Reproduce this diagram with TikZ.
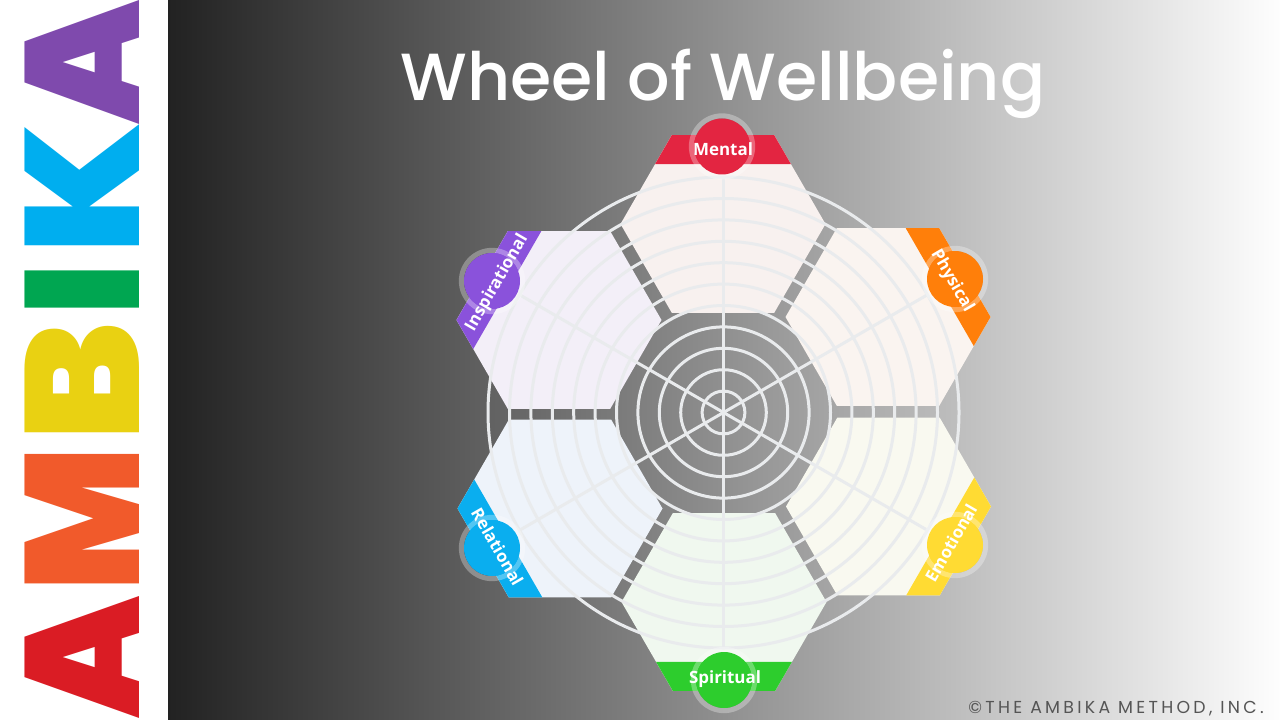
\documentclass[tikz,border=0pt]{standalone}
\usepackage{fontspec}
\usepackage{graphicx}
\setmainfont{Open Sans}
\newfontfamily\titlefont{Poppins}[UprightFont=* Medium]
\newfontfamily\logofont{Poppins}[UprightFont=* Black]
\newfontfamily\notefont{Poppins}[LetterSpace=19]
\usetikzlibrary{calc,shapes.geometric}
\definecolor{mentalred}{HTML}{E32541}
\definecolor{physicalorange}{HTML}{FF7F0A}
\definecolor{emotionalyellow}{HTML}{FFDB33}
\definecolor{spiritualgreen}{HTML}{2DCD2D}
\definecolor{relationalblue}{HTML}{0AAEEF}
\definecolor{inspirationalpurple}{HTML}{8A52DB}
\definecolor{ringgrey}{HTML}{E9EBED}
% coloured strip along the outer side of a cell
\newcommand{\cellband}[3]{\fill[#3] ($(#1)+(#2+30:102.5)$) -- ($(#1)+(#2-30:102.5)$) -- ++(#2-150:33.5) -- ($(#1)+(#2+30:102.5)+(#2+150:33.5)$) -- cycle;}

\begin{document}
\begin{tikzpicture}[x=0.75pt, y=0.75pt,
  cell/.style={regular polygon, regular polygon sides=6, minimum size=153.75pt, inner sep=0pt, outer sep=0pt},
  ring/.style={draw=ringgrey, line width=2.25pt},
  halo/.style={circle, draw=white, draw opacity=0.3, line width=3.75pt, minimum size=46pt, inner sep=0pt},
  dot/.style={circle, minimum size=42pt, inner sep=0pt},
  tag/.style={text=white, inner sep=0pt, font=\bfseries\fontsize{12.7pt}{15pt}\selectfont},
  logo/.style={rotate=90, inner sep=0pt, font=\logofont}]
\useasboundingbox (0,0) rectangle (1280,-720);
\fill[white] (0,0) rectangle (168,-720);
\shade[left color=black!86.7!white, right color=black!0.5!white] (168,0) rectangle (1280,-720);
% logo
\node[logo, text={rgb,255:red,218;green,28;blue,36}] (logoa) at (82,-657) {\resizebox{91.5pt}{85.9pt}{A}};
\node[logo, text={rgb,255:red,241;green,90;blue,43}] (logom) at (82,-519.5) {\resizebox{108.5pt}{85.9pt}{M}};
\node[logo, text={rgb,255:red,233;green,209;blue,18}] (logob) at (82,-382.2) {\resizebox{89.6pt}{85.9pt}{B}};
\node[logo, text={rgb,255:red,0;green,166;blue,81}] (logoi) at (82,-289) {\resizebox{40.5pt}{85.9pt}{I}};
\node[logo, text={rgb,255:red,0;green,174;blue,239}] (logok) at (82,-188.8) {\resizebox{99pt}{85.9pt}{K}};
\node[logo, text={rgb,255:red,127;green,74;blue,173}] (logoz) at (82,-62) {\resizebox{93pt}{85.9pt}{A}};
% title
\node[anchor=base, text=white, inner sep=0pt, font=\titlefont\fontsize{50pt}{60pt}\selectfont] (title) at (723,-101) {Wheel of Wellbeing};
\node[anchor=south east, inner sep=0pt, text={rgb,255:red,85;green,85;blue,85}, font=\notefont\fontsize{13pt}{15pt}\selectfont] (note) at (1264,-716) {©THE AMBIKA METHOD, INC.};
% cells
\node[cell, fill={rgb,255:red,248;green,241;blue,239}] (mental) at (723,-224) {};
\node[cell, fill={rgb,255:red,250;green,244;blue,240}] (physical) at (888,-317) {};
\node[cell, fill={rgb,255:red,249;green,249;blue,240}] (emotional) at (888.5,-506.5) {};
\node[cell, fill={rgb,255:red,240;green,248;blue,239}] (spiritual) at (724,-602) {};
\node[cell, fill={rgb,255:red,238;green,243;blue,250}] (relational) at (560,-508.5) {};
\node[cell, fill={rgb,255:red,243;green,239;blue,248}] (inspirational) at (559,-320) {};
\cellband{mental}{90}{mentalred}
\cellband{physical}{30}{physicalorange}
\cellband{emotional}{-30}{emotionalyellow}
\cellband{spiritual}{-90}{spiritualgreen}
\cellband{relational}{-150}{relationalblue}
\cellband{inspirational}{150}{inspirationalpurple}
% wheel
\coordinate (hub) at (723.5,-412.5);
\draw[ring] (hub) circle[radius=21.4] (hub) circle[radius=42.8] (hub) circle[radius=64.2] (hub) circle[radius=85.6];
\draw[ring] (hub) circle[radius=107] (hub) circle[radius=128.4] (hub) circle[radius=149.8] (hub) circle[radius=171.2];
\draw[ring] (hub) circle[radius=192.6] (hub) circle[radius=214] (hub) circle[radius=235.5];
\draw[ring] ($(hub)+(90:235.5)$) -- ($(hub)+(270:235.5)$);
\draw[ring] ($(hub)+(30:235.5)$) -- ($(hub)+(210:235.5)$);
\draw[ring] ($(hub)+(150:235.5)$) -- ($(hub)+(330:235.5)$);
% badges
\node[halo] (mentalhalo) at (722,-146.5) {};
\node[dot, fill=mentalred] (mentaldot) at (mentalhalo) {};
\node[tag] at (723,-149) {Mental};
\node[halo] (physicalhalo) at (955,-279) {};
\node[dot, fill=physicalorange] (physicaldot) at (physicalhalo) {};
\node[tag, rotate=-60] at (952,-281) {Physical};
\node[halo] (emotionalhalo) at (955,-545) {};
\node[dot, fill=emotionalyellow] (emotionaldot) at (emotionalhalo) {};
\node[tag, rotate=60] at (951,-543) {Emotional};
\node[halo] (spiritualhalo) at (724,-680) {};
\node[dot, fill=spiritualgreen] (spiritualdot) at (spiritualhalo) {};
\node[tag] at (725,-679.5) {Spiritual};
\node[halo] (relationalhalo) at (492,-548) {};
\node[dot, fill=relationalblue] (relationaldot) at (relationalhalo) {};
\node[tag, rotate=-60] at (497.5,-547) {Relational};
\node[halo] (inspirationalhalo) at (492,-281) {};
\node[dot, fill=inspirationalpurple] (inspirationaldot) at (inspirationalhalo) {};
\node[tag, rotate=60] at (497,-283) {Inspirational};
\end{tikzpicture}
\end{document}
